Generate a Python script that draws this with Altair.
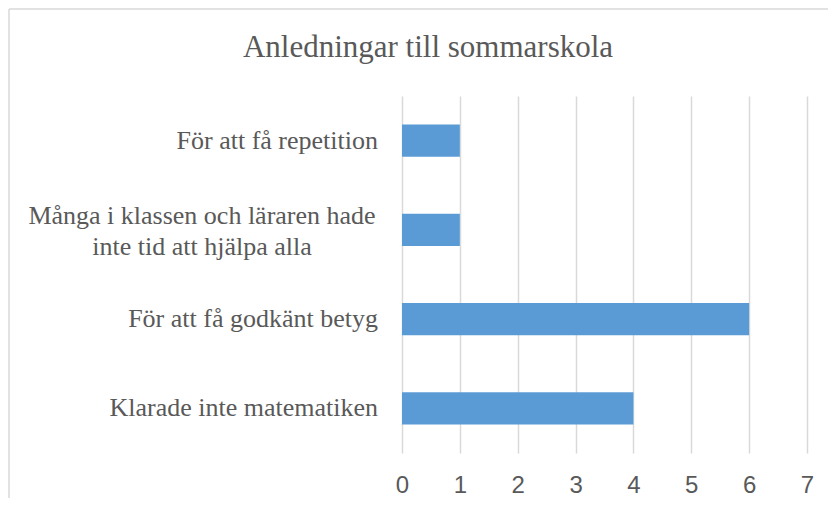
import altair as alt
import pandas as pd

title_text = "Anledningar till sommarskola"
categories = [
    "För att få repetition",
    "Många i klassen och läraren hade|inte tid att hjälpa alla",
    "För att få godkänt betyg\u00a0",
    "Klarade inte matematiken\u00a0",
]
values = [1, 1, 6, 4]
multiline = [False, True, False, False]
x_ticks = [0, 1, 2, 3, 4, 5, 6, 7]

df = pd.DataFrame({"cat": categories, "value": values, "multi": multiline})

W, H = 405, 357
TEXT = "#595959"
GRID = "#D9D9D9"

y_enc = alt.Y("cat:N", sort=categories, axis=None,
              scale=alt.Scale(paddingInner=0, paddingOuter=0))

base = alt.Chart(df)

bars = base.mark_bar(color="#5B9BD5", height=alt.RelativeBandSize(0.36)).encode(
    x=alt.X("value:Q",
            scale=alt.Scale(domain=[0, 7], nice=False),
            axis=alt.Axis(values=x_ticks, grid=True, gridColor=GRID, gridWidth=1.5,
                          ticks=False, domain=False, title=None, labelFlush=False,
                          labelFont="Liberation Sans", labelFontSize=24,
                          labelColor=TEXT, labelPadding=20)),
    y=y_enc,
)

single = base.transform_filter("!datum.multi").mark_text(
    align="right", baseline="middle", font="Liberation Serif", fontSize=26, color=TEXT
).encode(y=y_enc, x=alt.value(-24), text="cat:N")

multi = base.transform_filter("datum.multi").transform_calculate(
    lines="split(datum.cat, '|')"
).mark_text(
    align="center", baseline="middle", font="Liberation Serif", fontSize=26,
    color=TEXT, lineHeight=31, dy=-14
).encode(y=y_enc, x=alt.value(-200), text="lines:N")

title = alt.Chart(pd.DataFrame({"t": [title_text]})).mark_text(
    align="center", baseline="middle", font="Liberation Serif", fontSize=31, color=TEXT
).encode(x=alt.value(26), y=alt.value(-48), text="t:N")

border_left = alt.Chart(pd.DataFrame({"a": [0]})).mark_rule(color=GRID, strokeWidth=1.5).encode(
    x=alt.value(-393), y=alt.value(-87), y2=alt.value(H + 60))
border_top = alt.Chart(pd.DataFrame({"a": [0]})).mark_rule(color=GRID, strokeWidth=1.5).encode(
    x=alt.value(-393), x2=alt.value(W + 30), y=alt.value(-87))

chart = alt.layer(border_left, border_top, bars, single, multi, title).properties(
    width=W, height=H,
    background="white",
    autosize=alt.AutoSizeParams(type="none"),
    padding={"left": 394, "top": 88, "right": 21, "bottom": 45},
).configure_view(stroke=None)

chart.save("out.html", embed_options={"renderer": "svg", "actions": False})
